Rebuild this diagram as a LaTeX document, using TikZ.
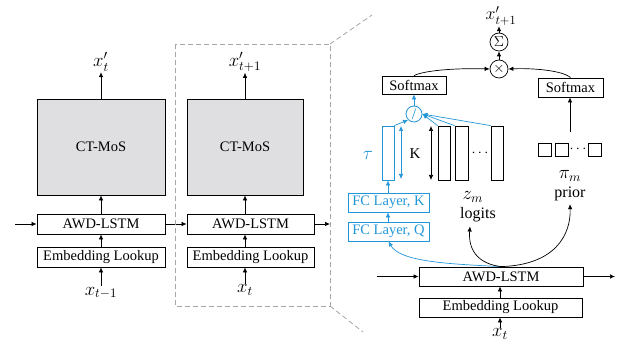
\documentclass[tikz,border=0pt]{standalone}
\usepackage{fontspec}
\setmainfont{Liberation Serif}
\usetikzlibrary{arrows.meta}
\definecolor{myblue}{RGB}{35,150,215}
\definecolor{boxgray}{RGB}{223,223,225}
\definecolor{dashgray}{RGB}{165,165,165}
\begin{document}
\begin{tikzpicture}[x=1pt,y=-1pt,
  every node/.style={font=\fontsize{14.5}{16}\selectfont},
  box/.style={draw,line width=0.8pt,inner sep=0pt,minimum width=#1},
  bbox/.style={draw=myblue,text=myblue,line width=0.8pt,inner sep=0pt,minimum width=#1,minimum height=19pt},
  arr/.style={line width=0.7pt,-{Latex[length=5pt,width=4.5pt]}},
  barr/.style={arr,draw=myblue},
  lbl/.style={inner sep=0.5pt,font=\fontsize{14.4}{16}\selectfont,scale=1.3},
  op/.style={draw,circle,line width=0.7pt,inner sep=0pt,minimum size=18pt,font=\fontsize{14.4}{16}\selectfont}]
\useasboundingbox (0,0) rectangle (625,347);
% ---- column 1
\node[box=128pt,minimum height=96pt,fill=boxgray] (ct1) at (101,147) {CT-MoS};
\node[box=128pt,minimum height=20pt] (awd1) at (101,224) {AWD-LSTM};
\node[box=128pt,minimum height=20pt] (emb1) at (101,257) {Embedding Lookup};
\node[lbl] (xo1) at (101,62) {$x'_t$};
\node[lbl] (xi1) at (101,293) {$x_{t-1}$};
\coordinate (in1) at (15,224);
\draw[arr] (ct1.north) -- (xo1.south);
\draw[arr] (awd1.north) -- (ct1.south);
\draw[arr] (emb1.north) -- (awd1.south);
\draw[arr] (xi1.north) -- (emb1.south);
\draw[arr] (in1) -- (awd1.west);
% ---- column 2
\node[box=116pt,minimum height=96pt,fill=boxgray] (ct2) at (245,147) {CT-MoS};
\node[box=127pt,minimum height=20pt] (awd2) at (250.5,224) {AWD-LSTM};
\node[box=127pt,minimum height=20pt] (emb2) at (250.5,257) {Embedding Lookup};
\node[lbl] (xo2) at (245,62) {$x'_{t+1}$};
\node[lbl] (xi2) at (245,290) {$x_t$};
\coordinate (out2) at (330,224);
\draw[arr] (ct2.north) -- (xo2.south);
\draw[arr] (awd2.north -| ct2.north) -- (ct2.south);
\draw[arr] (emb2.north -| ct2.north) -- (awd2.south -| ct2.north);
\draw[arr] (xi2.north) -- (emb2.south -| xi2.north);
\draw[arr] (awd1.east) -- (awd2.west);
\draw[arr] (awd2.east) -- (out2);
% dashed zoom box
\tikzset{dsh/.style={dashgray,line width=0.8pt,dash pattern=on 5pt off 3pt}}
\draw[dsh] (175,44) rectangle (330,306);
\draw[dsh] (330,44) -- (372,15);
\draw[dsh] (330,306) -- (363,332);
% ---- right detail
\node[lbl,scale=0.95] (xo3) at (501,16) {$x'_{t+1}$};
\node[op] (sum) at (499,42) {$\Sigma$};
\node[op] (prod) at (499,69) {$\times$};
\draw[arr] (sum.north) -- (xo3.south -| sum.north);
\draw[arr] (prod.north) -- (sum.south);
\node[box=64pt,minimum height=18pt] (sm1) at (414,85) {Softmax};
\node[box=65pt,minimum height=19pt] (sm2) at (570.5,87.5) {Softmax};
\draw[arr] (sm1.north) .. controls (425,70) and (460,68) .. (prod.west);
\draw[arr] (sm2.north) .. controls (562,70) and (530,68) .. (prod.east);
\node[draw=myblue,circle,line width=0.8pt,inner sep=0pt,minimum size=16pt,text=myblue,font=\fontsize{16}{18}\selectfont] (div) at (414,114) {/};
\draw[barr] (div.north) -- (sm1.south);
\node[draw=myblue,line width=0.8pt,inner sep=0pt,minimum width=12pt,minimum height=54pt] (tau) at (388,153) {};
\node[lbl,text=myblue] (taul) at (368,155) {$\tau$};
\node[font=\fontsize{15}{17}\selectfont] (kl) at (415,154) {K};
\coordinate (ba1) at (401,126);
\coordinate (ba2) at (401,179);
\draw[myblue,line width=0.7pt,{Latex[length=5pt,width=4.5pt]}-{Latex[length=5pt,width=4.5pt]}] (ba1) -- (ba2);
\coordinate (ka1) at (431,126);
\coordinate (ka2) at (431,180);
\draw[line width=0.7pt,{Latex[length=5pt,width=4.5pt]}-{Latex[length=5pt,width=4.5pt]}] (ka1) -- (ka2);
\node[box=12pt,minimum height=54pt] (l1) at (444,153) {};
\node[box=13pt,minimum height=54pt] (l2) at (461.5,153) {};
\node[box=12pt,minimum height=54pt] (l3) at (497,153) {};
\node (ldots) at (480,153) {$\cdots$};
\draw[barr] (tau.north east) -- (div.south west);
\draw[barr] (l1.north west) -- (div.east);
\draw[barr] (l2.north west) -- (div.east);
\draw[barr] (l3.north west) -- (div.east);
\node[bbox=81pt] (fck) at (388.5,202.5) {FC Layer, K};
\node[bbox=81pt] (fcq) at (388.5,231.5) {FC Layer, Q};
\draw[barr] (fcq.north -| tau.south) -- (fck.south -| tau.south);
\draw[barr] (fck.north -| tau.south) -- (tau.south);
% prior squares
\node[box=13pt,minimum height=13pt] (s1) at (544.5,149.5) {};
\node[box=13pt,minimum height=13pt] (s2) at (562,149.5) {};
\node[box=13pt,minimum height=13pt] (s3) at (595,149.5) {};
\node (sdots) at (578,149.5) {$\cdots$};
\coordinate (pa) at (570,132);
\draw[arr] (pa) -- (sm2.south -| pa);
\node[lbl] (pim) at (570,176) {$\pi_m$};
\node[inner sep=0pt,font=\fontsize{16}{18}\selectfont] (prior) at (570,194) {prior};
\node[lbl] (zm) at (473,197) {$z_m$};
\node[inner sep=0pt,font=\fontsize{16}{18}\selectfont] (logits) at (478,215) {logits};
% bottom
\node[box=164pt,minimum height=19pt] (awd3) at (501,276.5) {AWD-LSTM};
\node[box=163pt,minimum height=19pt] (emb3) at (500.5,307.5) {Embedding Lookup};
\node[lbl] (xi3) at (500,334) {$x_t$};
\coordinate (in3) at (377,276.5);
\coordinate (out3) at (615,276.5);
\draw[arr] (in3) -- (awd3.west);
\draw[arr] (awd3.east) -- (out3);
\draw[arr] (emb3.north -| xi3.north) -- (awd3.south -| xi3.north);
\draw[arr] (xi3.north) -- (emb3.south -| xi3.north);
\draw[barr] (awd3.north) .. controls (450,264) and (400,262) .. (fcq.south);
\draw[arr] (awd3.north) .. controls (480,264) and (468,252) .. ([yshift=-4pt]logits.south west -| 470,0);
\draw[arr] (awd3.north) .. controls (555,265) and (571,235) .. ([yshift=-3pt]prior.south);
\end{tikzpicture}
\end{document}
